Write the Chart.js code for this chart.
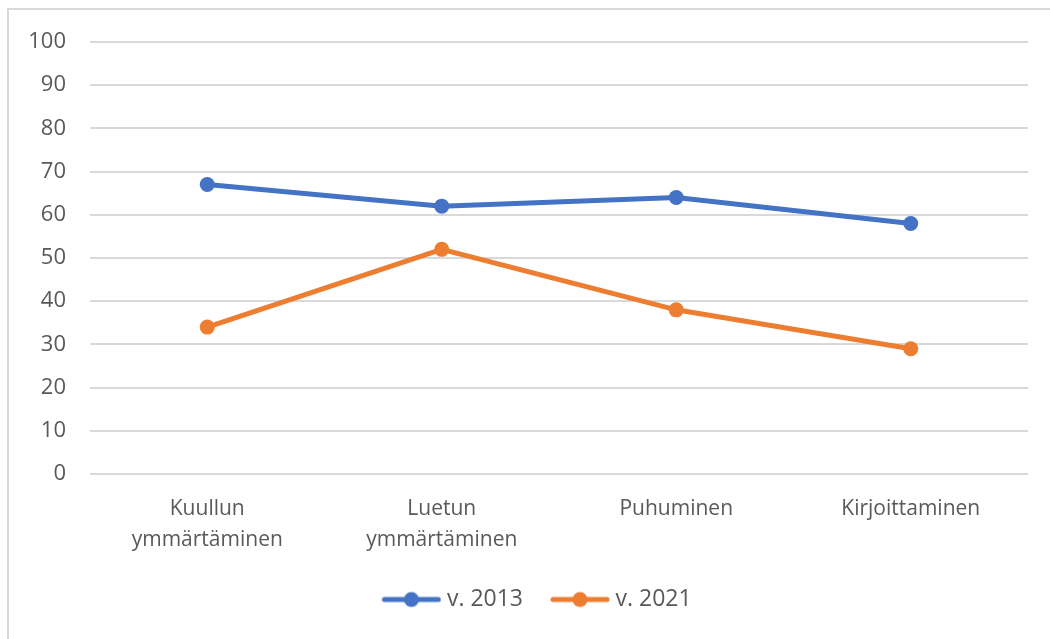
<!DOCTYPE html>
<html>
<head>
<meta charset="utf-8">
<script src="https://cdn.jsdelivr.net/npm/chart.js@4.4.1/dist/chart.umd.min.js"></script>
<style>
  html, body { margin: 0; padding: 0; background: #fff; }
  #wrap { position: relative; width: 1050px; height: 639px; overflow: hidden; }
  #frame { position: absolute; left: 7px; top: 8px; right: -10px; bottom: -10px;
           border-top: 2px solid #d9d9d9; border-left: 2px solid #d9d9d9; }
  #chart { position: absolute; left: 0; top: 0; }
</style>
</head>
<body>
<div id="wrap">
  <div id="frame"></div>
  <canvas id="chart" width="1050" height="639"></canvas>
</div>
<script>
/* data */
const categories = [["Kuullun", "ymmärtäminen"], ["Luetun", "ymmärtäminen"], "Puhuminen", "Kirjoittaminen"];
const seriesNames = ["v. 2013", "v. 2021"];
const values2013 = [67, 62, 64, 58];
const values2021 = [34, 52, 38, 29];
const yTicks = [0, 10, 20, 30, 40, 50, 60, 70, 80, 90, 100];

const BLUE = "#4472C4";
const ORANGE = "#ED7D31";
const TEXT = "#595959";
const FONT = "'Open Sans', 'Noto Sans', sans-serif";

/* legend marker: line with a dot, drawn into a small canvas */
const BOX = 71;
function legendMarker(color){
  const c = document.createElement("canvas");
  c.width = BOX + 12;
  c.height = 18;
  const g = c.getContext("2d");
  g.strokeStyle = color;
  g.lineWidth = 5;
  g.lineCap = "round";
  g.beginPath();
  g.moveTo(c.width - 60 + 3, 9);
  g.lineTo(c.width - 3, 9);
  g.stroke();
  g.fillStyle = color;
  g.beginPath();
  g.arc(c.width - 30, 9, 7.5, 0, Math.PI * 2);
  g.fill();
  return c;
}
const markers = [legendMarker(BLUE), legendMarker(ORANGE)];

/* nudge the legend row to the right, as in the picture */
const legendShift = {
  id: "legendShift",
  afterLayout(chart){
    chart.legend.left += 14;
    chart.legend.right += 14;
  }
};

new Chart(document.getElementById("chart"), {
  type: "line",
  data: {
    labels: categories,
    datasets: [
      { label: seriesNames[0], data: values2013, borderColor: BLUE, backgroundColor: BLUE,
        borderWidth: 5, pointRadius: 7.5, pointHoverRadius: 7.5, pointBorderWidth: 0, tension: 0 },
      { label: seriesNames[1], data: values2021, borderColor: ORANGE, backgroundColor: ORANGE,
        borderWidth: 5, pointRadius: 7.5, pointHoverRadius: 7.5, pointBorderWidth: 0, tension: 0 }
    ]
  },
  plugins: [legendShift],
  options: {
    responsive: false,
    animation: false,
    layout: { padding: { top: 42, right: 22, bottom: 18, left: 0 } },
    plugins: {
      tooltip: { enabled: false },
      legend: {
        position: "bottom",
        labels: {
          usePointStyle: true,
          pointStyleWidth: BOX,
          padding: 10,
          color: TEXT,
          font: { family: FONT, size: 23 },
          generateLabels(chart){
            const items = Chart.defaults.plugins.legend.labels.generateLabels(chart);
            items.forEach((it, i) => { it.pointStyle = markers[i]; });
            return items;
          }
        }
      }
    },
    scales: {
      x: {
        offset: true,
        grid: { display: false, drawTicks: false },
        border: { display: false },
        ticks: { color: TEXT, font: { family: FONT, size: 21, lineHeight: 1.5 }, padding: 19, maxRotation: 0, autoSkip: false },
        afterFit(scale){ scale.height = 104; }
      },
      y: {
        min: 0,
        max: 100,
        afterBuildTicks(scale){ scale.ticks = yTicks.map(v => ({ value: v })); },
        grid: { color: "#d9d9d9", lineWidth: 2, drawTicks: false },
        border: { display: false },
        ticks: { color: TEXT, font: { family: FONT, size: 22 }, padding: 24 },
        afterFit(scale){ scale.width = 90; }
      }
    }
  }
});
</script>
</body>
</html>
